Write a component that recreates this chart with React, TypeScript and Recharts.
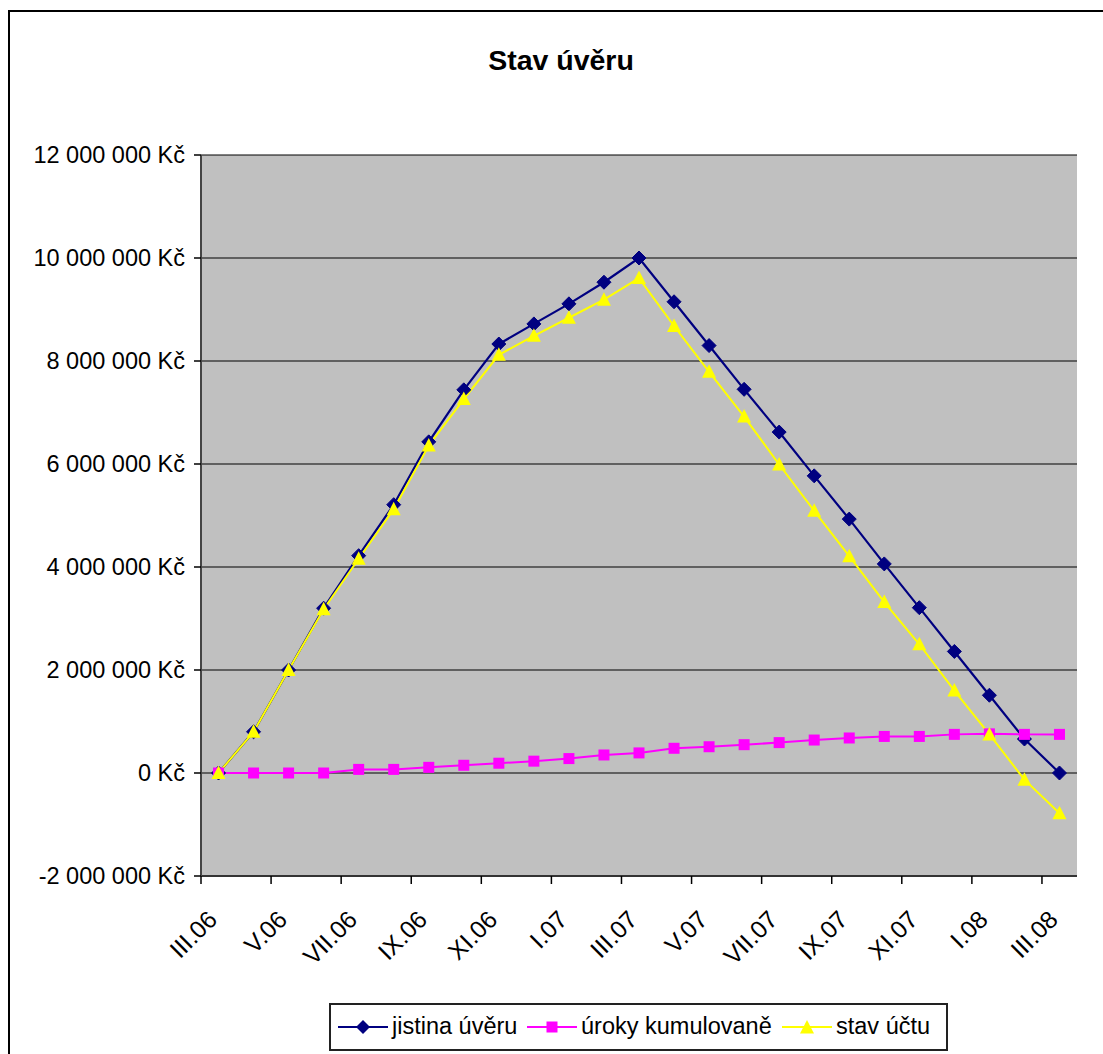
import React from "react";
import { LineChart, Line, XAxis, YAxis, CartesianGrid } from "recharts";

const months = [
  "III.06", "IV.06", "V.06", "VI.06", "VII.06", "VIII.06", "IX.06", "X.06", "XI.06", "XII.06",
  "I.07", "II.07", "III.07", "IV.07", "V.07", "VI.07", "VII.07", "VIII.07", "IX.07", "X.07",
  "XI.07", "XII.07", "I.08", "II.08", "III.08",
];

// jistina úvěru (Kč)
const jistina = [
  0, 800000, 2000000, 3200000, 4220000, 5210000, 6430000, 7440000, 8330000, 8720000,
  9110000, 9530000, 10000000, 9150000, 8300000, 7450000, 6620000, 5770000, 4930000, 4060000,
  3210000, 2360000, 1510000, 660000, 0,
];

// úroky kumulované (Kč)
const uroky = [
  0, 0, 0, 0, 70000, 70000, 110000, 150000, 190000, 230000,
  280000, 350000, 390000, 480000, 510000, 550000, 590000, 640000, 680000, 710000,
  710000, 750000, 760000, 750000, 750000,
];

// stav účtu (Kč)
const stav = [
  0, 800000, 2000000, 3180000, 4160000, 5120000, 6360000, 7260000, 8120000, 8490000,
  8840000, 9190000, 9610000, 8680000, 7790000, 6920000, 5990000, 5090000, 4210000, 3320000,
  2500000, 1600000, 750000, -130000, -780000,
];

const yTicks = [-2000000, 0, 2000000, 4000000, 6000000, 8000000, 10000000, 12000000];

const data = months.map((m, i) => ({ m, jistina: jistina[i], uroky: uroky[i], stav: stav[i] }));

const W = 1103;
const H = 1054;
const MARGIN = { top: 155, right: 26, bottom: 78, left: 0 };
const Y_W = 201;
const X_H = 100;
const BAND = (W - MARGIN.left - Y_W - MARGIN.right) / months.length;
const FONT = "'Liberation Sans', Arial, sans-serif";

const fmt = (v: number) =>
  (v < 0 ? "-" : "") + String(Math.abs(v)).replace(/\B(?=(\d{3})+(?!\d))/g, " ") + " Kč";

function XTick(props: any) {
  const { x, y, payload } = props;
  const axisY = y - 8;
  const lx = x - BAND / 2;
  const tx = x;
  const ty = axisY + 45;
  return (
    <g>
      <line x1={lx} y1={axisY} x2={lx} y2={axisY + 8} stroke="#000" strokeWidth={1.5} />
      <text
        x={tx}
        y={ty}
        transform={`rotate(-45 ${tx} ${ty})`}
        textAnchor="end"
        fontSize={24.5}
        fontFamily={FONT}
        fill="#000"
      >
        {payload.value}
      </text>
    </g>
  );
}

const diamond = (cx: number, cy: number, r = 7) =>
  `${cx},${cy - r} ${cx + r},${cy} ${cx},${cy + r} ${cx - r},${cy}`;
const triangle = (cx: number, cy: number) =>
  `${cx},${cy - 7.5} ${cx + 7},${cy + 6} ${cx - 7},${cy + 6}`;

const DiamondDot = (p: any) => (
  <polygon key={`j-${p.index}`} points={diamond(p.cx, p.cy)} fill="#000080" stroke="#000080" />
);
const SquareDot = (p: any) => (
  <rect key={`u-${p.index}`} x={p.cx - 5.5} y={p.cy - 5.5} width={11} height={11} fill="#FF00FF" />
);
const TriangleDot = (p: any) => (
  <polygon key={`s-${p.index}`} points={triangle(p.cx, p.cy)} fill="#FFFF00" />
);

function LegendItem({ left, color, marker, label }: any) {
  return (
    <>
      <svg style={{ position: "absolute", left, top: 14 }} width={50} height={16}>
        <line x1={0} y1={8} x2={50} y2={8} stroke={color} strokeWidth={2} />
        {marker === "d" && <polygon points={diamond(25, 8)} fill={color} />}
        {marker === "s" && <rect x={19.5} y={2.5} width={11} height={11} fill={color} />}
        {marker === "t" && <polygon points={triangle(25, 8.5)} fill={color} />}
      </svg>
      <span
        style={{
          position: "absolute",
          left: left + 54,
          top: 8,
          fontSize: 23.5,
          lineHeight: "26px",
          fontFamily: FONT,
          whiteSpace: "nowrap",
        }}
      >
        {label}
      </span>
    </>
  );
}

export default function App() {
  return (
    <div style={{ position: "relative", width: W, height: H, overflow: "hidden", background: "#fff" }}>
      <style>{"html,body{margin:0;padding:0;overflow:hidden;}"}</style>
      <div
        style={{
          position: "absolute",
          left: 8,
          top: 10,
          width: W,
          height: H,
          borderLeft: "2px solid #000",
          borderTop: "2px solid #000",
        }}
      />
      <div
        style={{
          position: "absolute",
          left: 0,
          width: 1122,
          top: 46,
          textAlign: "center",
          fontFamily: FONT,
          fontWeight: "bold",
          fontSize: 28.5,
          lineHeight: "28px",
        }}
      >
        Stav úvěru
      </div>
      <div style={{ position: "absolute", left: 0, top: 0 }}>
        <LineChart width={W} height={H} data={data} margin={MARGIN}>
          <CartesianGrid vertical={false} stroke="#000" fill="#C0C0C0" fillOpacity={1} />
          <XAxis
            dataKey="m"
            scale="band"
            interval={1}
            height={X_H}
            tickSize={8}
            tickMargin={0}
            tickLine={false}
            tick={<XTick />}
            axisLine={{ stroke: "#333", strokeWidth: 2 }}
          />
          <XAxis
            xAxisId="top"
            orientation="top"
            dataKey="m"
            scale="band"
            height={0}
            tick={false}
            tickLine={false}
            axisLine={{ stroke: "#808080", strokeWidth: 2 }}
          />
          <YAxis
            width={Y_W}
            domain={[-2000000, 12000000]}
            ticks={yTicks}
            interval={0}
            tickSize={7}
            tickMargin={9}
            tickFormatter={fmt}
            tick={{ fill: "#000", fontSize: 23.5, fontFamily: FONT }}
            tickLine={{ stroke: "#000", strokeWidth: 1.5 }}
            axisLine={{ stroke: "#444", strokeWidth: 2 }}
          />
          <YAxis
            yAxisId="right"
            orientation="right"
            width={0}
            domain={[-2000000, 12000000]}
            tick={false}
            tickLine={false}
            axisLine={{ stroke: "#808080", strokeWidth: 2 }}
          />
          <Line
            dataKey="jistina"
            stroke="#000080"
            strokeWidth={2.2}
            dot={DiamondDot}
            activeDot={false}
            isAnimationActive={false}
          />
          <Line
            dataKey="uroky"
            stroke="#FF00FF"
            strokeWidth={2}
            dot={SquareDot}
            activeDot={false}
            isAnimationActive={false}
          />
          <Line
            dataKey="stav"
            stroke="#FFFF00"
            strokeWidth={2}
            dot={TriangleDot}
            activeDot={false}
            isAnimationActive={false}
          />
        </LineChart>
      </div>
      <div
        style={{
          position: "absolute",
          left: 329,
          top: 1003,
          width: 615,
          height: 44,
          border: "2px solid #222",
          background: "#fff",
        }}
      >
        <LegendItem left={7} color="#000080" marker="d" label="jistina úvěru" />
        <LegendItem left={196} color="#FF00FF" marker="s" label="úroky kumulovaně" />
        <LegendItem left={451} color="#FFFF00" marker="t" label="stav účtu" />
      </div>
    </div>
  );
}
